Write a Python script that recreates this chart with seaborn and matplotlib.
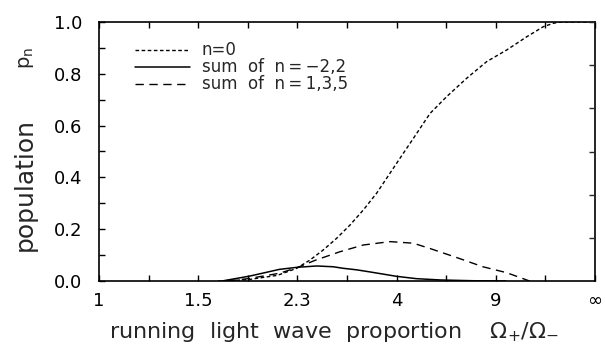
import numpy as np
import pandas as pd
import matplotlib
matplotlib.use("Agg")
import matplotlib.pyplot as plt
import seaborn as sns

# x is the fraction Omega+/(Omega+ + Omega-), so ratio r = x/(1-x)
x_ticks = [0.5, 0.6, 0.7, 0.8, 0.9, 1.0]
x_ticklabels = ["1", "1.5", "2.3", "4", "9", "\u221e"]

n0_x = [0.62, 0.65, 0.68, 0.6993, 0.7127, 0.7261, 0.7396, 0.7530, 0.7664, 0.7799,
        0.7933, 0.8085, 0.8168, 0.8337, 0.8505, 0.8707, 0.8908, 0.9110, 0.9312,
        0.9479, 0.9580, 0.965, 1.0]
n0_y = [0.0, 0.005, 0.022, 0.049, 0.081, 0.120, 0.165, 0.216, 0.274, 0.339,
        0.416, 0.503, 0.550, 0.647, 0.712, 0.783, 0.847, 0.892, 0.943,
        0.982, 0.995, 1.0, 1.0]

m22_x = [0.624, 0.652, 0.682, 0.700, 0.7195, 0.736, 0.7463, 0.760, 0.7732, 0.800,
         0.820, 0.844, 0.877, 0.91]
m22_y = [0.0, 0.019, 0.045, 0.053, 0.058, 0.055, 0.049, 0.043, 0.035, 0.018,
         0.009, 0.004, 0.001, 0.0]

odd_x = [0.63, 0.652, 0.682, 0.700, 0.718, 0.7429, 0.7664, 0.7933, 0.8168, 0.834,
         0.861, 0.887, 0.911, 0.934]
odd_y = [0.0, 0.01, 0.03, 0.052, 0.08, 0.113, 0.139, 0.152, 0.146, 0.125,
         0.09, 0.055, 0.032, 0.0]

sns.set_style("ticks")
plt.rcParams['font.family'] = ['DejaVu Sans']

fig = plt.figure(figsize=(6.05, 3.47), dpi=100)
ax = fig.add_axes([99/605, 1-281/347, 496/605, 259/347])

sns.lineplot(x=n0_x, y=n0_y, ax=ax, color="black", lw=1.0,
             linestyle=(0, (2.6, 1.8)), label="n=0", sort=False)
sns.lineplot(x=m22_x, y=m22_y, ax=ax, color="black", lw=1.1,
             linestyle="-", label="sum  of  n\u2009=\u2009\u22122,2", sort=False)
sns.lineplot(x=odd_x, y=odd_y, ax=ax, color="black", lw=1.0,
             linestyle=(0, (6, 4)), label="sum  of  n\u2009=\u20091,3,5", sort=False)

ax.set_xlim(0.5, 1.0)
ax.set_ylim(0.0, 1.0)
ax.set_xticks(x_ticks)
ax.set_xticklabels(x_ticklabels)
ax.set_xticks(np.arange(0.55, 1.0, 0.1), minor=True)
ax.set_yticks(np.arange(0, 1.01, 0.2))
ax.set_yticklabels([f"{v:.1f}" for v in np.arange(0, 1.01, 0.2)])
ax.set_yticks(np.arange(0.1, 1.0, 0.2), minor=True)
for s in ax.spines.values():
    s.set_linewidth(1.2)
    s.set_color("black")
ax.tick_params(axis="both", which="both", direction="in", length=4, width=1,
               top=True, right=False, labelsize=13, colors="black")
ax.tick_params(axis="x", which="both", pad=8)
ax.tick_params(axis="y", which="both", pad=12)

axr = ax.twinx()
axr.set_ylim(0, 1)
axr.set_yticks(np.arange(1/6, 1.0, 1/6))
axr.set_yticklabels([])
axr.tick_params(axis="y", direction="in", length=4, width=1)
for s in axr.spines.values():
    s.set_visible(False)

ax.set_xlabel("running  light  wave  proportion    $\\Omega_{+}/\\Omega_{-}$",
              fontsize=16)
ax.xaxis.set_label_coords(0.473, -0.152)
ax.set_ylabel("population", fontsize=18)
ax.yaxis.set_label_coords(-0.125, 0.371)
fig.text(27/605, 1-57.5/347, "$\\mathregular{p_n}$", fontsize=14, rotation=90,
         ha="center", va="center")

leg = ax.legend(loc="upper left", bbox_to_anchor=(0.0726, 0.925), frameon=False,
                fontsize=12, handlelength=3.3, handletextpad=0.7,
                labelspacing=-0.06, borderaxespad=0, borderpad=0)

fig.savefig("out.png", dpi=100)
